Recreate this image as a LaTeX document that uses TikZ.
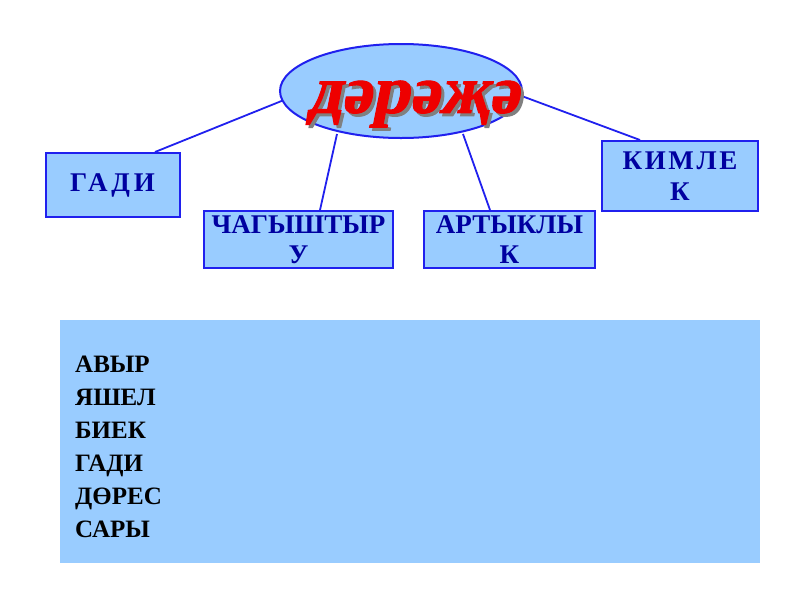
\documentclass[tikz,border=0pt]{standalone}
\usepackage{fontspec}
\usetikzlibrary{shapes.geometric}
\setmainfont{Liberation Serif}
\newfontfamily\titlefont[FakeSlant=0.2,FakeBold=1.5]{Liberation Serif Bold}
\definecolor{boxfill}{HTML}{99CCFF}
\definecolor{boxline}{HTML}{2020EE}
\definecolor{boxtext}{HTML}{0000A0}
\definecolor{titlered}{HTML}{EE0000}
\begin{document}
\begin{tikzpicture}[x=1pt,y=-1pt,
  catbox/.style={draw=boxline,fill=boxfill,line width=2pt,inner sep=0pt,
    font=\fontsize{27}{30.5}\selectfont\bfseries,text=boxtext,align=center},
  conn/.style={draw=boxline,line width=1.8pt},
  listtext/.style={font=\fontsize{25}{33}\selectfont\bfseries,text=black,align=left,anchor=north west,inner sep=0pt}
]
\useasboundingbox (0,0) rectangle (800,600);
\fill[white] (0,0) rectangle (800,600);
% connectors
\coordinate (e1) at (284,100);
\coordinate (e2) at (337,134);
\coordinate (e3) at (463,134);
\coordinate (e4) at (519,95);
% boxes
\node[catbox,minimum width=134pt,minimum height=64pt] (gadi) at (112.5,185) {\addfontfeature{LetterSpace=14}ГАДИ};
\node[catbox,minimum width=189pt,minimum height=57pt] (chag) at (298.5,239.5) {ЧАГЫШТЫР\\У};
\node[catbox,minimum width=171pt,minimum height=57pt] (arty) at (509.5,239.5) {АРТЫКЛЫ\\К};
\node[catbox,minimum width=156pt,minimum height=70pt] (kiml) at (680,176) {\addfontfeature{LetterSpace=10}КИМЛЕ\\К};
\draw[conn] (e1) -- (gadi.north -| 155,0);
\draw[conn] (e2) -- (chag.north -| 320,0);
\draw[conn] (e3) -- (arty.north -| 490,0);
\draw[conn] (e4) -- (kiml.north -| 640,0);
% ellipse
\node[draw=boxline,fill=boxfill,line width=2pt,ellipse,minimum width=242pt,minimum height=94pt,inner sep=0pt] (ell) at (401,91) {};
\node[text=black!50,font=\fontsize{68}{68}\titlefont,inner sep=0pt] (titsh) at (416,107) {дәрәҗә};
\node[text=titlered,font=\fontsize{68}{68}\titlefont,inner sep=0pt] (tit) at (413,104) {дәрәҗә};
% big panel
\node[fill=boxfill,minimum width=700pt,minimum height=243pt,inner sep=0pt,anchor=north west] (panel) at (60,320) {};
\node[listtext] (list) at (75,356) {АВЫР\\ЯШЕЛ\\БИЕК\\ГАДИ\\ДӨРЕС\\САРЫ};
\end{tikzpicture}
\end{document}
